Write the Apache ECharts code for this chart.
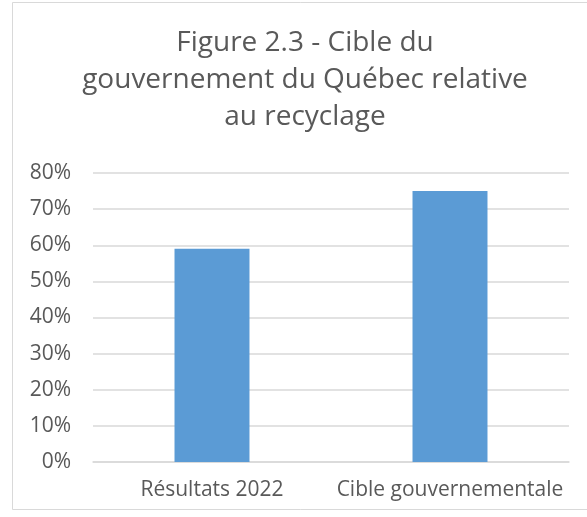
<!DOCTYPE html>
<html><head><meta charset="utf-8">
<script src="https://cdn.jsdelivr.net/npm/echarts@6/dist/echarts.min.js"></script>
<style>html,body{margin:0;padding:0;background:#fff}#c{width:587px;height:517px}</style>
</head><body><div id="c"></div>
<script>
const categories = ['Résultats 2022', 'Cible gouvernementale'];
const values = [0.59, 0.75];
const titleText = 'Figure 2.3 - Cible du\ngouvernement du Québec relative\nau recyclage';
const yTicks = [0, 0.1, 0.2, 0.3, 0.4, 0.5, 0.6, 0.7, 0.8];

const chart = echarts.init(document.getElementById('c'), null, {renderer: 'canvas'});
const FONT = 'Open Sans';
chart.setOption({
  animation: false,
  backgroundColor: '#fff',
  graphic: [
    {type: 'rect', shape: {x: 12.5, y: 2.5, width: 600, height: 507}, style: {fill: 'none', stroke: '#d9d9d9', lineWidth: 1}, z: -1},
    {type: 'text', x: 305, y: 25, style: {text: titleText, align: 'center', verticalAlign: 'top', fill: '#595959',
      fontFamily: FONT, fontSize: 28, lineHeight: 37}}
  ],
  grid: {left: 93, right: 18, top: 173, bottom: 55, containLabel: false},
  xAxis: {
    type: 'category', data: categories,
    axisLine: {lineStyle: {color: '#d9d9d9', width: 1.5}},
    axisTick: {show: false},
    axisLabel: {fontFamily: FONT, fontSize: 21, color: '#595959', margin: 18, interval: 0, hideOverlap: false}
  },
  yAxis: {
    type: 'value', min: 0, max: yTicks[yTicks.length - 1], interval: 0.1,
    axisLine: {show: false}, axisTick: {show: false},
    splitLine: {lineStyle: {color: '#d9d9d9', width: 1.5}},
    axisLabel: {fontFamily: FONT, fontSize: 21, color: '#595959', margin: 22,
      formatter: v => Math.round(v * 100) + '%'}
  },
  series: [{
    type: 'bar', data: values, barWidth: '31.5%',
    itemStyle: {color: '#5b9bd5'}
  }]
});
</script></body></html>
